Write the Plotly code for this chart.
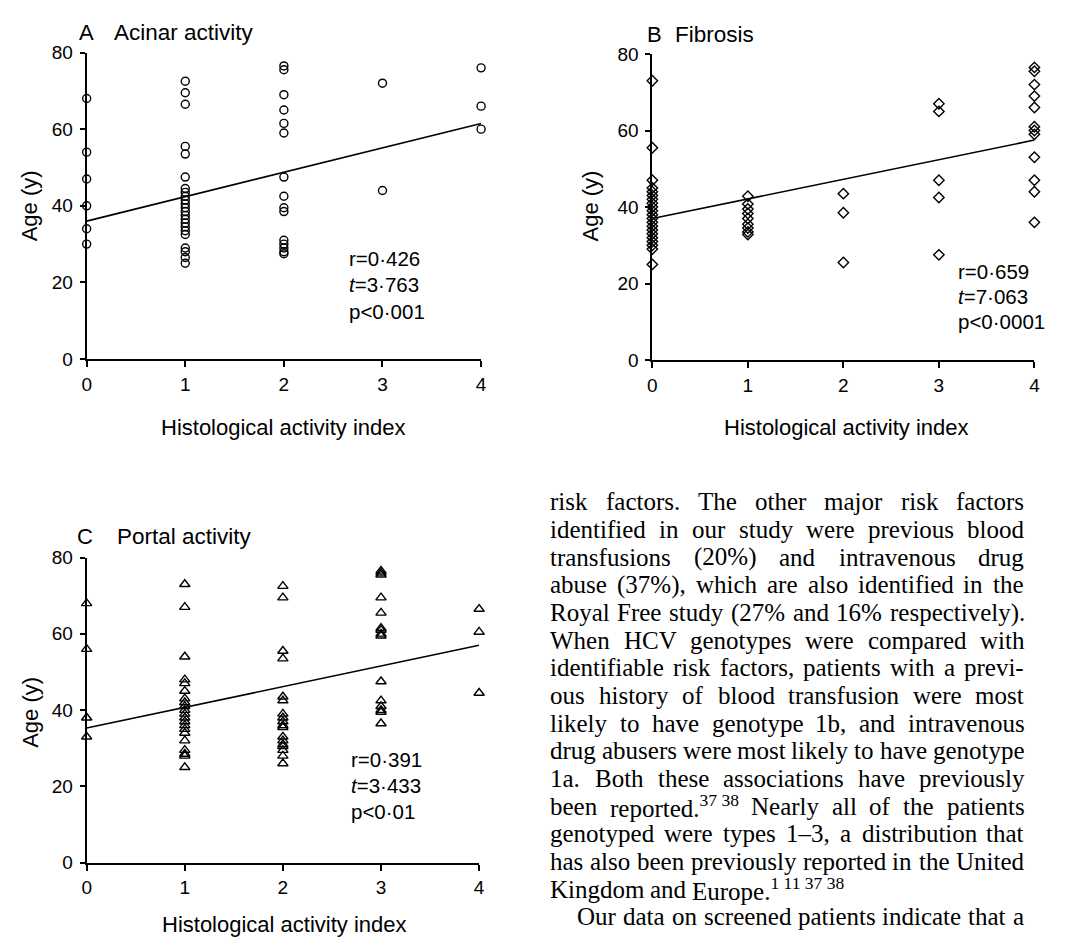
import re
import plotly.graph_objects as go

W, H = 1080, 946

# ---------------- data ----------------
hai_levels = [0, 1, 2, 3, 4]
hai_ticks = ["0", "1", "2", "3", "4"]
age_ticks = [0, 20, 40, 60, 80]

acinar_ages = [
    [68, 54, 47, 40, 34, 30],
    [72.5, 69.5, 66.5, 55.5, 53.5, 47.5, 44.5, 43.5, 42.5, 41.5, 40.5, 39.5, 38.5,
     37.5, 36.5, 35.5, 34.5, 33.5, 32.5, 29, 28, 26.5, 25],
    [76.5, 75.5, 69, 65, 61.5, 59, 47.5, 42.5, 39.5, 38.5, 31, 30, 29, 28, 27.5],
    [72, 44],
    [76, 66, 60],
]
fibrosis_ages = [
    [73, 55.5, 47, 45, 44, 43, 42, 41, 40, 39, 38, 37, 36, 35, 34, 33, 32, 31, 30, 29, 25],
    [42.8, 40.8, 39.5, 38.3, 37, 35.5, 34.5, 33.5, 32.8],
    [43.5, 38.5, 25.5],
    [67, 65, 47, 42.5, 27.5],
    [76.5, 75.5, 72, 69, 66, 61, 60, 59, 53, 47, 44, 36],
]
portal_ages = [
    [68, 56, 38, 33],
    [73, 67, 54, 48, 47, 45, 43, 42, 41, 40, 39, 38, 37, 36, 35, 34, 32, 29.5, 28.5, 28, 25],
    [72.5, 69.5, 55.5, 53.5, 43.5, 42.5, 39, 38, 37, 36, 35.5, 33, 32, 31, 30.5, 29.5, 28, 26],
    [76.5, 76, 75.5, 69.5, 65.5, 61.5, 61, 60, 59.5, 47.5, 42.5, 41, 40, 39.5, 36.5],
    [66.5, 60.5, 44.5],
]
fit_x = [0, 4]
acinar_fit = [36.0, 61.5]
fibrosis_fit = [37.0, 57.5]
portal_fit = [35.3, 57.0]

acinar_stats = ["r=0·426", "<i>t</i>=3·763", "p&lt;0·001"]
fibrosis_stats = ["r=0·659", "<i>t</i>=7·063", "p&lt;0·0001"]
portal_stats = ["r=0·391", "<i>t</i>=3·433", "p&lt;0·01"]

paragraph_lines = [
    "risk factors. The other major risk factors",
    "identified in our study were previous blood",
    "transfusions (20%) and intravenous drug",
    "abuse (37%), which are also identified in the",
    "Royal Free study (27% and 16% respectively).",
    "When HCV genotypes were compared with",
    "identifiable risk factors, patients with a previ-",
    "ous history of blood transfusion were most",
    "likely to have genotype 1b, and intravenous",
    "drug abusers were most likely to have genotype",
    "1a. Both these associations have previously",
    "been reported.<sup>37 38</sup> Nearly all of the patients",
    "genotyped were types 1–3, a distribution that",
    "has also been previously reported in the United",
    "Kingdom and Europe.<sup>1 11 37 38</sup>",
    "Our data on screened patients indicate that a",
]
justified = [True] * 14 + [False, True]
indent = [0] * 15 + [27]

# ---------------- helpers ----------------
SANS = "Liberation Sans, Arial, sans-serif"
SERIF = "Liberation Serif, Times New Roman, serif"


def px(x):
    return x / W


def py(y):
    return 1 - y / H


def flatten(groups):
    xs, ys = [], []
    for lvl, ages in zip(hai_levels, groups):
        xs += [lvl] * len(ages)
        ys += ages
    return xs, ys


fig = go.Figure()

panels = [
    (acinar_ages, acinar_fit, "circle-open", 8, "x", "y"),
    (fibrosis_ages, fibrosis_fit, "diamond-open", 8, "x2", "y2"),
    (portal_ages, portal_fit, "triangle-up-open", 9, "x3", "y3"),
]
for groups, fit, sym, size, xa, ya in panels:
    xs, ys = flatten(groups)
    fig.add_trace(go.Scatter(
        x=xs, y=ys, mode="markers", xaxis=xa, yaxis=ya, cliponaxis=False,
        marker=dict(symbol=sym, size=size, color="black", line=dict(color="black", width=1.4)),
        showlegend=False, hoverinfo="skip"))
    fig.add_trace(go.Scatter(
        x=fit_x, y=fit, mode="lines", xaxis=xa, yaxis=ya, cliponaxis=False,
        line=dict(color="black", width=1.6), showlegend=False, hoverinfo="skip"))


def xax(x0, x1, anchor):
    return dict(domain=[px(x0), px(x1)], range=[0, 4], anchor=anchor,
                showline=True, linecolor="black", linewidth=2,
                ticks="outside", ticklen=6, tickwidth=1.6, tickcolor="black",
                tickvals=hai_levels, ticktext=hai_ticks, showgrid=False, zeroline=False,
                tickfont=dict(family=SANS, size=19, color="black"), ticklabelstandoff=1)


def yax(y0, y80, anchor):
    return dict(domain=[py(y0), py(y80)], range=[0, 80], anchor=anchor,
                showline=True, linecolor="black", linewidth=2,
                ticks="outside", ticklen=5, tickwidth=1.6, tickcolor="black",
                tickvals=age_ticks, showgrid=False, zeroline=False,
                tickfont=dict(family=SANS, size=19, color="black"), ticklabelstandoff=3)


fig.update_layout(
    width=W, height=H, autosize=False,
    margin=dict(l=0, r=0, t=0, b=0),
    paper_bgcolor="white", plot_bgcolor="white",
    font=dict(family=SANS, color="black"),
    xaxis=xax(82.5, 481, "y"), yaxis=yax(357, 43.5, "x"),
    xaxis2=xax(654, 1040, "y2"), yaxis2=yax(358, 45, "x2"),
    xaxis3=xax(82.5, 479, "y3"), yaxis3=yax(872, 560, "x3"),
)

ann = []


def text(x, y, s, size=20, xanchor="left", family=SANS, angle=0):
    ann.append(dict(x=px(x), y=py(y), xref="paper", yref="paper", text=s, showarrow=False,
                    xanchor=xanchor, yanchor="middle", textangle=angle, borderpad=0,
                    font=dict(family=family, size=size, color="black")))


# panel titles
text(74, 23, "A", 22)
text(109, 23, "Acinar activity", 22.5)
text(648, 25, "B", 22)
text(676, 25, "Fibrosis", 22.5)
text(72, 538, "C", 22)
text(112, 538, "Portal activity", 22.5)

# stats
for (x0, ys, lines) in [(347, [254, 281, 308], acinar_stats),
                        (962, [267, 293, 319], fibrosis_stats),
                        (349, [767, 793, 820], portal_stats)]:
    for yy, s in zip(ys, lines):
        text(x0, yy, s, 20.5)

# axis titles
for (xc, yc) in [(281, 427), (850, 427), (282, 935)]:
    text(xc, yc, "Histological activity index", 22, xanchor="center")
for (xc, yc) in [(25, 200), (592, 200), (25, 718)]:
    text(xc, yc, "Age (y)", 22, xanchor="center", angle=-90)

# ---------------- justified paragraph ----------------
TIMES = {" ": 250, "!": 333, "%": 833, "(": 333, ")": 333, ",": 250, "-": 333, ".": 250,
         "–": 500, ":": 278, ";": 278,
         "A": 722, "B": 667, "C": 667, "D": 722, "E": 611, "F": 556, "G": 722, "H": 722,
         "I": 333, "J": 389, "K": 722, "L": 611, "M": 889, "N": 722, "O": 722, "P": 556,
         "Q": 722, "R": 667, "S": 556, "T": 611, "U": 722, "V": 722, "W": 944, "X": 722,
         "Y": 722, "Z": 611,
         "a": 444, "b": 500, "c": 444, "d": 500, "e": 444, "f": 333, "g": 500, "h": 500,
         "i": 278, "j": 278, "k": 500, "l": 278, "m": 778, "n": 500, "o": 500, "p": 500,
         "q": 500, "r": 333, "s": 389, "t": 278, "u": 500, "v": 500, "w": 722, "x": 500,
         "y": 500, "z": 444}
for d in "0123456789":
    TIMES[d] = 500

FS = 25
LEFT, RIGHT = 550, 1028
TOP, STEP = 503, 28.3


def tok_width(tok):
    w = 0.0
    for part in re.split(r"(<sup>.*?</sup>)", tok):
        if part.startswith("<sup>"):
            inner = part[5:-6]
            w += 0.7 * sum(TIMES.get(c, 500) for c in inner)
        else:
            w += sum(TIMES.get(c, 500) for c in part)
    return w * FS / 1000.0


for i, line in enumerate(paragraph_lines):
    yy = TOP + i * STEP
    x0 = LEFT + indent[i]
    toks = re.findall(r"(?:<sup>.*?</sup>|\S)+", line)
    widths = [tok_width(t) for t in toks]
    if justified[i] and len(toks) > 1:
        gap = (RIGHT - x0 - sum(widths)) / (len(toks) - 1)
    else:
        gap = TIMES[" "] * FS / 1000.0
    x = x0
    for t, w in zip(toks, widths):
        text(x, yy, t, FS, family=SERIF)
        x += w + gap

fig.update_layout(annotations=ann)
fig.write_html("out.html")
